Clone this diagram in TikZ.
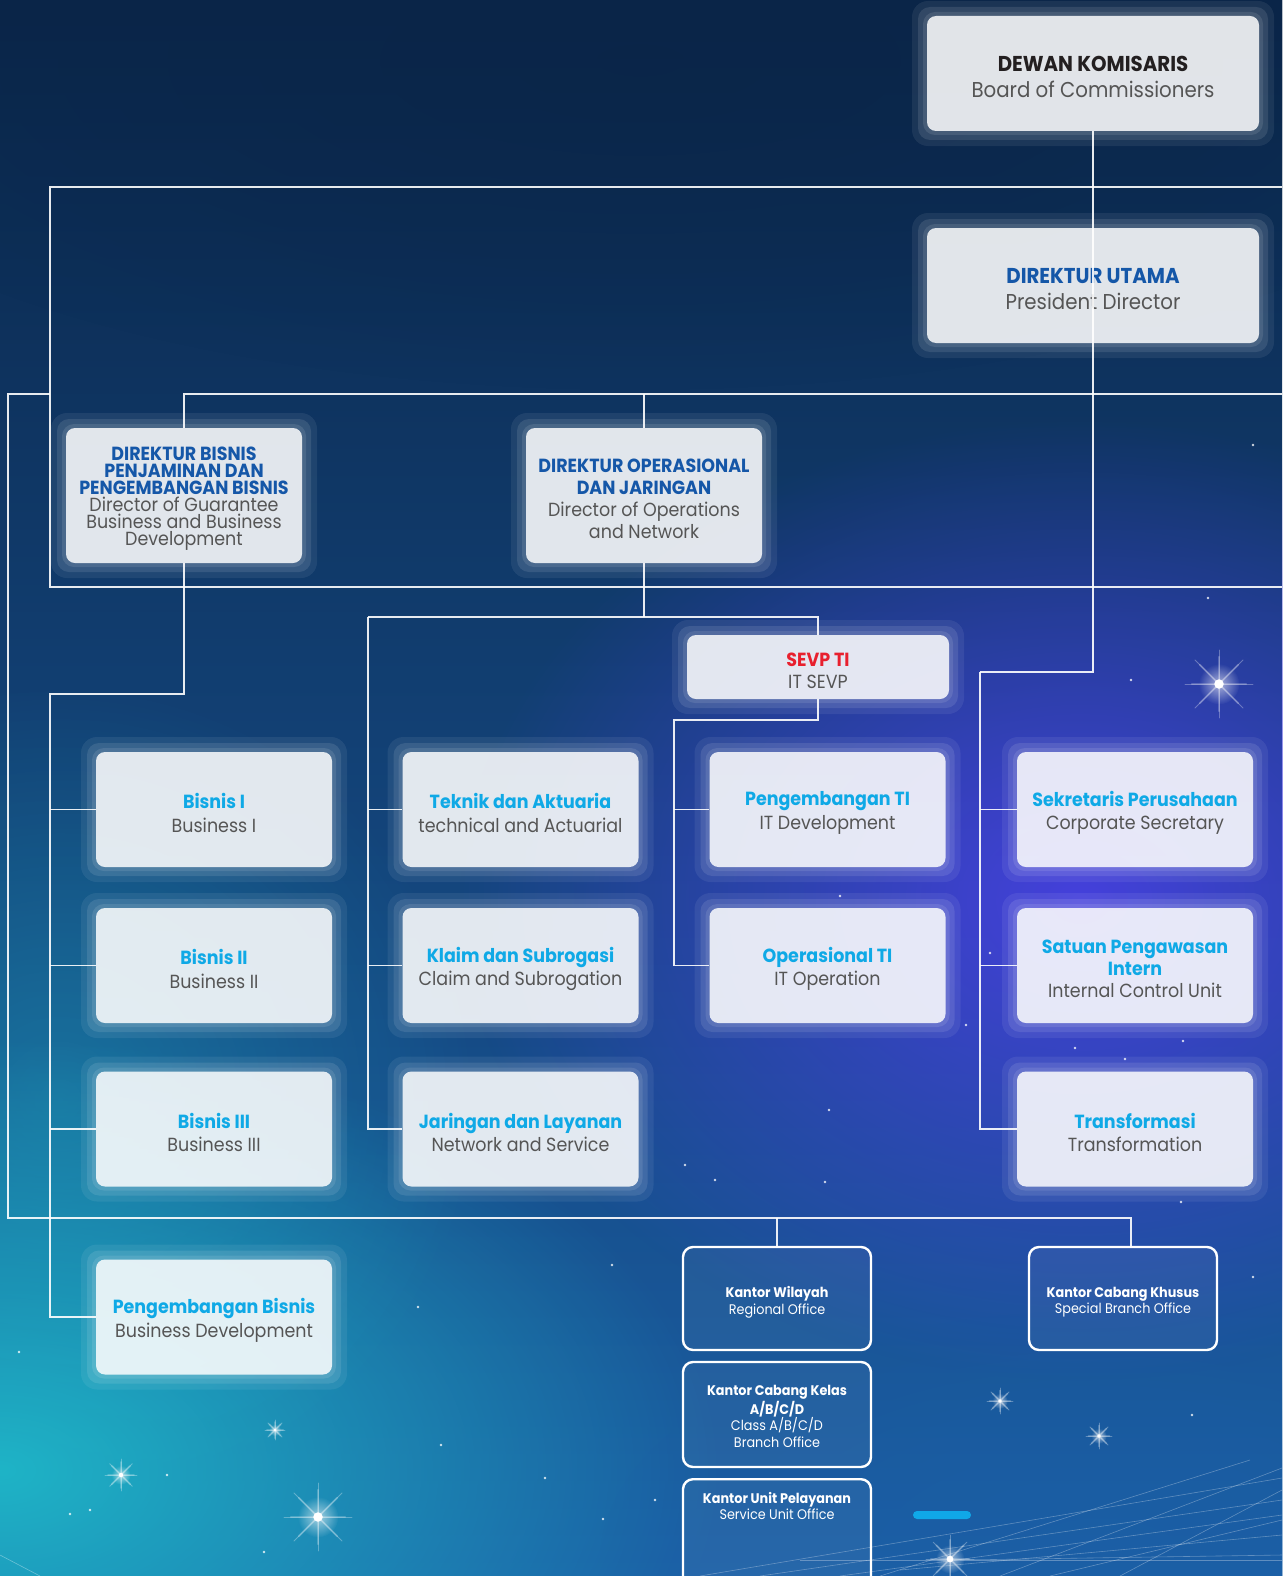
\documentclass[tikz,border=0pt]{standalone}
\usepackage{fontspec}
\setmainfont{Poppins}[FakeStretch=0.92]
\usetikzlibrary{fadings}
\tikzfading[name=softglow, inner color=transparent!0, outer color=transparent!100]
\pgfdeclarelayer{bglayer}
\pgfdeclarelayer{lines}
\pgfsetlayers{bglayer,lines,main}
\definecolor{bgA}{HTML}{0A2548}
\definecolor{bgB}{HTML}{1F3CA0}
\definecolor{bgC}{HTML}{1B5FA6}
\definecolor{purp}{HTML}{4A40E6}
\definecolor{tealc}{HTML}{1FB9C9}
\definecolor{dirblue}{HTML}{1557A8}
\definecolor{cyant}{HTML}{0FA9E6}
\definecolor{redt}{HTML}{E8202E}
\definecolor{blackt}{HTML}{231F20}
\definecolor{subt}{HTML}{555555}
\definecolor{pill}{HTML}{10A8E8}
\tikzset{
  unitbox/.style={rounded corners=9pt, fill=white, fill opacity=0.84, inner sep=0pt},
  utext/.style={align=center, inner sep=0pt, text=subt},
  conn/.style={draw=white, line width=1.1pt, opacity=0.9},
  kbox/.style={rounded corners=10pt, draw=white, line width=2.4pt, fill=white, fill opacity=0.05, inner sep=0pt},
  ktext/.style={align=center, inner sep=0pt, text=white},
  haloA/.style={fill=white, opacity=0.07, rounded corners=16pt},
  haloB/.style={fill=white, opacity=0.10, rounded corners=12pt},
  fDK/.style={font=\fontsize{21.5}{26.5}\selectfont},
  fDir/.style={font=\fontsize{19}{17}\selectfont},
  fOp/.style={font=\fontsize{19}{22}\selectfont},
  fU/.style={font=\fontsize{19}{23.5}\selectfont},
  fUt/.style={font=\fontsize{19}{22}\selectfont},
  fK/.style={font=\fontsize{13.9}{16.6}\selectfont},
}
\newcommand\tcy[1]{{\bfseries\color{cyant}#1}}
\newcommand\tdb[1]{{\bfseries\color{dirblue}#1}}
\newcommand\tbk[1]{{\bfseries\color{blackt}#1}}
\newcommand\trd[1]{{\bfseries\color{redt}#1}}
\newcommand\ubox[7]{%
  \fill[haloA] (#2-#4/2-15,#3-#5/2-15) rectangle (#2+#4/2+15,#3+#5/2+15);
  \fill[haloB] (#2-#4/2-9,#3-#5/2-9) rectangle (#2+#4/2+9,#3+#5/2+9);
  \fill[haloB] (#2-#4/2-4,#3-#5/2-4) rectangle (#2+#4/2+4,#3+#5/2+4);
  \node[unitbox, minimum width=#4pt, minimum height=#5pt] (#1) at (#2,#3) {};
  \node[utext, #6] (#1-t) at (#2,#3+3.5) {#7};
}
\newcommand\spark[3]{%
  \fill[white, path fading=softglow, opacity=0.6] (#1,#2) circle (#3*0.6);
  \foreach \ang in {0,45,...,315} {\draw[white, opacity=0.22, line width=2pt, line cap=round] (#1,#2) -- ++(\ang:#3*0.8);
    \draw[white, opacity=0.3, line width=0.8pt, line cap=round] (#1,#2) -- ++(\ang:#3);}
  \fill[white] (#1,#2) circle (#3*0.14);
}
\newcommand\dotstar[2]{\fill[white, opacity=0.8] (#1,#2) circle (1.4);}
\begin{document}
\begin{tikzpicture}[x=1pt,y=-1pt]
\useasboundingbox (0,0) rectangle (1282,1576);
\clip (0,0) rectangle (1282,1576);
% ---------- background
\begin{pgfonlayer}{bglayer}
\shade[top color=bgA, middle color=bgB, bottom color=bgC] (0,0) rectangle (1282,1576);
\fill[bgA, path fading=softglow, opacity=0.7] (640,60) ellipse (900 and 330);
\fill[purp, path fading=softglow, opacity=0.9] (1080,900) ellipse (620 and 480);
\fill[tealc, path fading=softglow, opacity=0.95] (0,1470) ellipse (720 and 430);
\fill[tealc, path fading=softglow, opacity=0.35] (60,1100) ellipse (420 and 420);
\fill[bgC, path fading=softglow, opacity=0.6] (1100,1560) ellipse (500 and 250);
% network lines bottom right
\foreach \a/\b/\c/\d in {700/1576/1282/1478, 760/1576/1282/1500, 840/1576/1282/1515, 900/1570/1282/1535, 960/1560/1282/1555, 1000/1576/1282/1468, 880/1576/1250/1460, 1050/1576/1282/1520, 1120/1576/1282/1490, 800/1560/1282/1560}
  {\draw[white, opacity=0.3, line width=0.6pt] (\a,\b) -- (\c,\d);}
\draw[white, opacity=0.35, line width=0.6pt] (0,1555) -- (40,1576);
% sparkles
\spark{1219}{684}{34}
\spark{318}{1517}{34}
\spark{121}{1475}{16}
\spark{1000}{1401}{13}
\spark{1099}{1436}{13}
\spark{950}{1559}{24}
\spark{275}{1430}{10}
\foreach \p/\q in {1253/445, 1131/680, 829/1110, 685/1165, 715/1180, 612/1265, 418/1307, 1253/1277, 1192/1415, 441/1445, 167/1475, 90/1510, 70/1514, 603/1519, 545/1478, 1125/1059, 1183/1041, 1075/1048, 966/1025, 840/896, 1208/598, 990/953, 1181/1202, 825/1182, 264/1552, 655/1500, 19/1352}
  {\dotstar{\p}{\q}}
\fill[pill, rounded corners=4pt] (913,1511) rectangle (971,1519);
\end{pgfonlayer}
% ---------- boxes
\ubox{dk}{1093}{73.5}{332}{115}{fDK}{\tbk{DEWAN KOMISARIS}\\Board of Commissioners}
\ubox{du}{1093}{285.5}{332}{115}{fDK}{\tdb{DIREKTUR UTAMA}\\President Director}
\ubox{db}{184}{495.5}{236}{135}{fDir}{\tdb{DIREKTUR BISNIS}\\\tdb{PENJAMINAN DAN}\\\tdb{PENGEMBANGAN BISNIS}\\Director of Guarantee\\Business and Business\\Development}
\ubox{dop}{644}{495.5}{236}{135}{fOp}{\tdb{DIREKTUR OPERASIONAL}\\\tdb{DAN JARINGAN}\\Director of Operations\\and Network}
\ubox{sevp}{818}{667}{262}{64}{fOp}{\trd{SEVP TI}\\IT SEVP}
% grid
\ubox{bA}{214}{809.5}{236}{115}{fU}{\tcy{Bisnis I}\\Business I}
\ubox{bB}{214}{965.5}{236}{115}{fU}{\tcy{Bisnis II}\\Business II}
\ubox{bC}{214}{1129}{236}{115}{fU}{\tcy{Bisnis III}\\Business III}
\ubox{pb}{214}{1317}{236}{115}{fU}{\tcy{Pengembangan Bisnis}\\Business Development}
\ubox{tA}{520.5}{809.5}{236}{115}{fU}{\tcy{Teknik dan Aktuaria}\\technical and Actuarial}
\ubox{tB}{520.5}{965.5}{236}{115}{fU}{\tcy{Klaim dan Subrogasi}\\Claim and Subrogation}
\ubox{tC}{520.5}{1129}{236}{115}{fU}{\tcy{Jaringan dan Layanan}\\Network and Service}
\ubox{pA}{827.5}{809.5}{236}{115}{fU}{\tcy{Pengembangan TI}\\IT Development}
\ubox{pB}{827.5}{965.5}{236}{115}{fU}{\tcy{Operasional TI}\\IT Operation}
\ubox{sA}{1135}{809.5}{236}{115}{fU}{\tcy{Sekretaris Perusahaan}\\Corporate Secretary}
\ubox{sB}{1135}{965.5}{236}{115}{fUt}{\tcy{Satuan Pengawasan}\\\tcy{Intern}\\Internal Control Unit}
\ubox{sC}{1135}{1129}{236}{115}{fU}{\tcy{Transformasi}\\Transformation}
% kantor boxes
\node[kbox, minimum width=188pt, minimum height=103pt] (kw) at (777,1298.5) {};
\node[ktext, fK] (kw-t) at (777,1302) {\textbf{Kantor Wilayah}\\Regional Office};
\node[kbox, minimum width=188pt, minimum height=105pt] (kc) at (777,1414.5) {};
\node[ktext, fK] (kc-t) at (777,1416.5) {\textbf{Kantor Cabang Kelas}\\\textbf{A/B/C/D}\\Class A/B/C/D\\Branch Office};
\node[kbox, minimum width=188pt, minimum height=130pt, anchor=north] (ku) at (777,1478) {};
\node[ktext, fK] (ku-t) at (777,1506) {\textbf{Kantor Unit Pelayanan}\\Service Unit Office};
\node[kbox, minimum width=188pt, minimum height=103pt] (kk) at (1123,1298.5) {};
\node[ktext, fK] (kk-t) at (1123,1302) {\textbf{Kantor Cabang Khusus}\\Special Branch Office};
% ---------- connectors
\coordinate (frTop) at (1282,187);
\coordinate (frBot) at (1282,587);
\coordinate (dirBar) at (1282,394);
\coordinate (outL) at (8,394);
\coordinate (busL) at (50,694);
\coordinate (opBar) at (368,617);
\coordinate (itBar) at (674,720);
\coordinate (rBar) at (980,672);
\coordinate (kBus) at (8,1218);
\coordinate (kkDrop) at (1131,1218);
\begin{pgfonlayer}{lines}
\draw[conn] (frTop) -- (50,187) -- (50,587) -- (frBot);
\draw[conn] (db.north) -- (db.north |- dirBar) -- (dirBar);
\draw[conn] (dop.north) -- (dop.north |- dirBar);
\draw[conn] (50,394) -- (outL) -- (kBus) -- (kkDrop) -- (kkDrop |- kk.north);
\draw[conn] (kw.north |- kBus) -- (kw.north);
% business director branch
\draw[conn] (db.south) -- (db.south |- busL) -- (busL) -- (busL |- pb.west) -- (pb.west);
\draw[conn] (busL |- bA.west) -- (bA.west);
\draw[conn] (busL |- bB.west) -- (bB.west);
\draw[conn] (busL |- bC.west) -- (bC.west);
% operations director branch
\draw[conn] (dop.south) -- (dop.south |- opBar);
\draw[conn] (opBar) -- (opBar -| sevp.north) -- (sevp.north);
\draw[conn] (opBar) -- (opBar |- tC.west) -- (tC.west);
\draw[conn] (opBar |- tA.west) -- (tA.west);
\draw[conn] (opBar |- tB.west) -- (tB.west);
% SEVP branch
\draw[conn] (sevp.south) -- (sevp.south |- itBar) -- (itBar) -- (itBar |- pB.west) -- (pB.west);
\draw[conn] (itBar |- pA.west) -- (pA.west);
% president director branch
\draw[conn] (rBar) -- (rBar |- sC.west) -- (sC.west);
\draw[conn] (rBar |- sA.west) -- (sA.west);
\draw[conn] (rBar |- sB.west) -- (sB.west);
\end{pgfonlayer}
% line from commissioners through president director (visible over the box)
\draw[conn] (dk.south) -- (du.north) -- (du.south) -- (du.south |- rBar) -- (rBar);
\end{tikzpicture}
\end{document}
